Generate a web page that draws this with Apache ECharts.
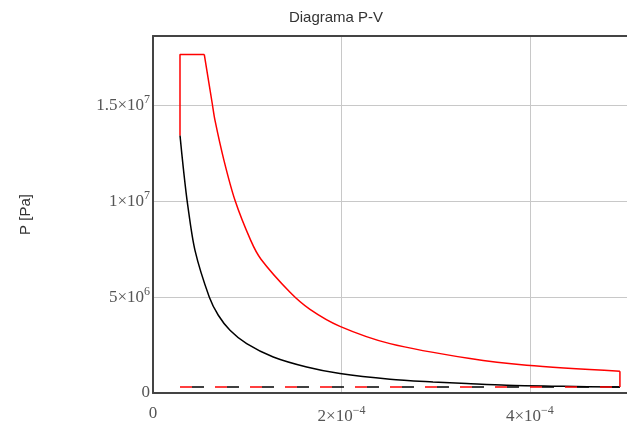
<!DOCTYPE html>
<html>
<head>
<meta charset="utf-8">
<script src="https://cdn.jsdelivr.net/npm/echarts@6/dist/echarts.min.js"></script>
<style>html,body{margin:0;padding:0;background:#fff;}#c{width:627px;height:431px;}</style>
</head>
<body>
<div id="c"></div>
<script>
// Compression curve (black), V [m^3], P [Pa]
var blackV = [2.865e-5, 3.22e-5, 3.68e-5, 4.456e-5, 5.97e-5, 6.93e-5, 8.17e-5, 9.94e-5, 1.276e-4, 1.631e-4, 1.984e-4, 2.515e-4, 2.971e-4, 3.328e-4, 3.753e-4, 4.35e-4, 4.955e-4];
var blackP = [1.342e7, 1.17e7, 9.8e6, 7.43e6, 5.0e6, 4.05e6, 3.27e6, 2.57e6, 1.875e6, 1.354e6, 1.01e6, 7.14e5, 5.73e5, 4.9e5, 4.0e5, 3.49e5, 3.12e5];
// Heat addition at constant volume and pressure (red)
var redTopV = [2.865e-5, 2.865e-5, 5.44e-5];
var redTopP = [1.342e7, 1.764e7, 1.764e7];
// Expansion curve (red)
var redV = [5.44e-5, 6.29e-5, 6.58e-5, 7.53e-5, 8.7e-5, 1.037e-4, 1.146e-4, 1.454e-4, 1.666e-4, 1.984e-4, 2.515e-4, 3.364e-4, 3.965e-4, 4.955e-4];
var redP = [1.764e7, 1.507e7, 1.42e7, 1.212e7, 1.004e7, 7.95e6, 6.97e6, 5.25e6, 4.36e6, 3.474e6, 2.573e6, 1.792e6, 1.443e6, 1.13e6];
// Heat rejection at constant volume (red)
var redEndV = [4.955e-4, 4.955e-4];
var redEndP = [1.13e6, 3.12e5];
// Intake / exhaust line (dashed)
var dashV = [2.865e-5, 4.955e-4];
var dashP = [3.12e5, 3.12e5];

var xTickValues = [0, 2e-4, 4e-4];
var xTickLabels = ['{b|0}', '{b|2×10}{s|−4}', '{b|4×10}{s|−4}'];
var yTickValues = [0, 5e6, 1e7, 1.5e7];
var yTickLabels = ['{b|0}', '{b|5×10}{s|6}', '{b|1×10}{s|7}', '{b|1.5×10}{s|7}'];

var X_MAX = 5.03e-4;
var Y_MAX = 1.86e7;

function pairs(a, b) { return a.map(function (v, i) { return [v, b[i]]; }); }
function fmt(vals, labs) {
  return function (v) {
    for (var i = 0; i < vals.length; i++) {
      if (Math.abs(v - vals[i]) <= Math.abs(vals[1]) * 1e-6) return labs[i];
    }
    return '';
  };
}
var rich = {
  b: { fontFamily: 'Liberation Serif', fontSize: 17, color: '#555' },
  s: { fontFamily: 'Liberation Serif', fontSize: 12, color: '#555', padding: [0, 0, 11, 0] }
};
var axisLineStyle = { show: true, onZero: false, lineStyle: { color: '#444', width: 2 } };

var chart = echarts.init(document.getElementById('c'), null, { renderer: 'canvas' });
chart.setOption({
  animation: false,
  backgroundColor: '#fff',
  title: {
    text: 'Diagrama P-V', left: 331, top: 5, textAlign: 'center',
    textStyle: { fontFamily: 'Liberation Sans', fontSize: 15, fontWeight: 'normal', color: '#333' }
  },
  grid: { left: 153, top: 36, bottom: 38, right: 0, show: false, containLabel: false },
  xAxis: [{
    type: 'value', min: 0, max: X_MAX, interval: 2e-4,
    axisLine: axisLineStyle,
    axisTick: { show: false },
    splitLine: { show: true, showMaxLine: false, lineStyle: { color: '#c8c8c8', width: 1 } },
    axisLabel: { formatter: fmt(xTickValues, xTickLabels), rich: rich, margin: 12, showMaxLabel: false }
  }, {
    type: 'value', position: 'top', min: 0, max: X_MAX, interval: 2e-4,
    axisLine: axisLineStyle,
    axisTick: { show: false }, splitLine: { show: false }, axisLabel: { show: false }
  }],
  yAxis: {
    type: 'value', min: 0, max: Y_MAX, interval: 5e6,
    name: 'P [Pa]', nameLocation: 'middle', nameGap: 120, nameRotate: 90,
    nameTextStyle: { fontFamily: 'Liberation Sans', fontSize: 15, color: '#333' },
    axisLine: axisLineStyle,
    axisTick: { show: false },
    splitLine: { show: true, showMaxLine: false, lineStyle: { color: '#c8c8c8', width: 1 } },
    axisLabel: { formatter: fmt(yTickValues, yTickLabels), rich: rich, margin: 3, showMaxLabel: false }
  },
  series: [
    { type: 'line', data: pairs(blackV, blackP), symbol: 'none', smooth: 0.3, lineStyle: { color: '#000', width: 1.5 }, z: 3 },
    { type: 'line', data: pairs(redTopV, redTopP), symbol: 'none', lineStyle: { color: '#ff0000', width: 1.5 }, z: 4 },
    { type: 'line', data: pairs(redV, redP), symbol: 'none', smooth: 0.3, lineStyle: { color: '#ff0000', width: 1.5 }, z: 4 },
    { type: 'line', data: pairs(redEndV, redEndP), symbol: 'none', lineStyle: { color: '#ff0000', width: 1.5 }, z: 4 },
    { type: 'line', data: pairs(dashV, dashP), symbol: 'none', lineStyle: { color: '#ff0000', width: 1.5, type: [12, 23], dashOffset: 0 }, z: 4 },
    { type: 'line', data: pairs(dashV, dashP), symbol: 'none', lineStyle: { color: '#000', width: 1.5, type: [12, 23], dashOffset: 23 }, z: 3 }
  ]
});
</script>
</body>
</html>
